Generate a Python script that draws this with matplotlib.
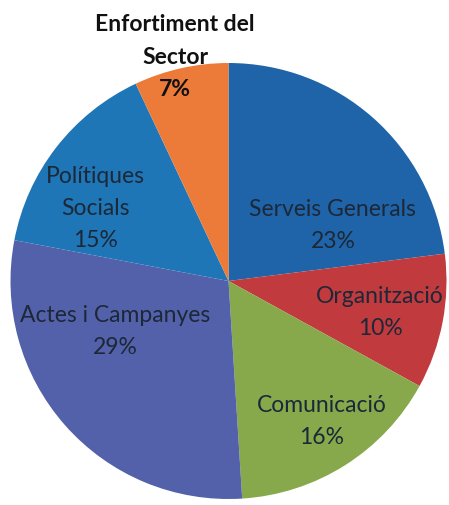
import matplotlib
matplotlib.use("Agg")
import matplotlib.pyplot as plt

# Pressupost per àrees (percentatges)
categories = ["Serveis Generals", "Organització", "Comunicació",
              "Actes i Campanyes", "Polítiques\nSocials", "Enfortiment del\nSector"]
values = [23, 10, 16, 29, 15, 7]
colors = ["#1f64a8", "#c03a3e", "#87a94b", "#5261a9", "#1f76b6", "#ec7b3a"]

# label centres in axes data units (pie radius = 1)
label_pos = [(0.479, 0.261), (0.695, -0.142), (0.429, -0.642),
             (-0.521, -0.225), (-0.612, 0.339), (-0.245, 1.032)]
label_bold = [False, False, False, False, False, True]

plt.rcParams["font.family"] = ["Lato", "DejaVu Sans"]

fig = plt.figure(figsize=(4.49, 5.06), dpi=100)
ax = fig.add_axes([0, 0, 1, 1])
ax.pie(values, colors=colors, startangle=90, counterclock=False,
       radius=1.0, wedgeprops={"linewidth": 0})

for name, val, (x, y), bold in zip(categories, values, label_pos, label_bold):
    ax.text(x, y, f"{name}\n{val}%", ha="center", va="center",
            fontsize=16.5, linespacing=1.65,
            color="#111111" if bold else "#1c2838",
            fontweight="bold" if bold else "normal")

ax.set_xlim(-228.5 / 218, (449 - 228.5) / 218)
ax.set_ylim(-(506 - 282) / 218, 282 / 218)
ax.set_aspect("equal")
ax.axis("off")

fig.savefig("out.png", dpi=100)
